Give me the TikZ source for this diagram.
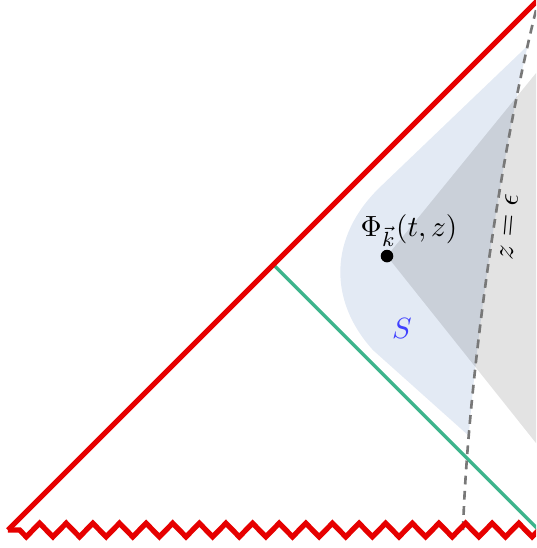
\documentclass[tikz,border=0pt]{standalone}
\usetikzlibrary{decorations.pathmorphing}
\definecolor{horizon}{HTML}{E60000}
\definecolor{slicegreen}{HTML}{3DB48C}
\definecolor{region}{HTML}{E3EAF4}
\definecolor{cutoff}{HTML}{787878}
\definecolor{sblue}{HTML}{4040FF}

\begin{document}
\begin{tikzpicture}[
  edge/.style={draw=horizon,line width=1.8pt},
  singular/.style={draw=horizon,line width=1.8pt,decorate,
    decoration={zigzag,segment length=3.2mm,amplitude=.82mm}},
  cauchy/.style={draw=slicegreen,line width=1.2pt},
  cutline/.style={draw=cutoff,line width=.9pt,dash pattern=on 3pt off 2.2pt},
  wedge/.style={fill=black,fill opacity=.11},
  operator/.style={circle,fill=black,inner sep=0pt,minimum size=4.3pt},
  note/.style={text=black}
]
\useasboundingbox (-0.096,-0.216) rectangle (6.347,6.371);
\clip (-0.096,-0.216) rectangle (6.347,6.371);

\coordinate (bl) at (0,0);
\coordinate (br) at (6.38,0);
\coordinate (tr) at (6.38,6.38);
\coordinate (mid) at (3.19,3.19);
\coordinate (cut) at (5.469,0);
\coordinate (obs) at (4.556,3.293);

\begin{scope}
  \clip (bl) -- (cut) .. controls (5.529,1.803) and (5.914,4.568) .. (tr) -- cycle;
  \fill[region] (6.6,6.16) -- (4.47,4.12)
    .. controls (3.85,3.52) and (3.85,2.75) .. (4.39,2.16) -- (6.0,0.72) -- cycle;
\end{scope}
\fill[wedge] (obs) -- (7,6.294) -- (7,0.226) -- cycle;

\draw[cauchy] (mid) -- (br);
\draw[cutline] (cut) .. controls (5.529,1.803) and (5.914,4.568) .. (tr);
\draw[edge] (tr) -- (bl);
\draw[singular] (br) -- (bl);

\node[operator] (pt) at (obs) {};
\node[note] (phi) at (4.82,3.60) {$\Phi_{\vec{k}}(t,z)$};
\node[note,text=sblue] (s) at (4.736,2.428) {$S$};
\node[note,rotate=85] (eps) at (6.022,3.642) {$z=\epsilon$};
\end{tikzpicture}
\end{document}
